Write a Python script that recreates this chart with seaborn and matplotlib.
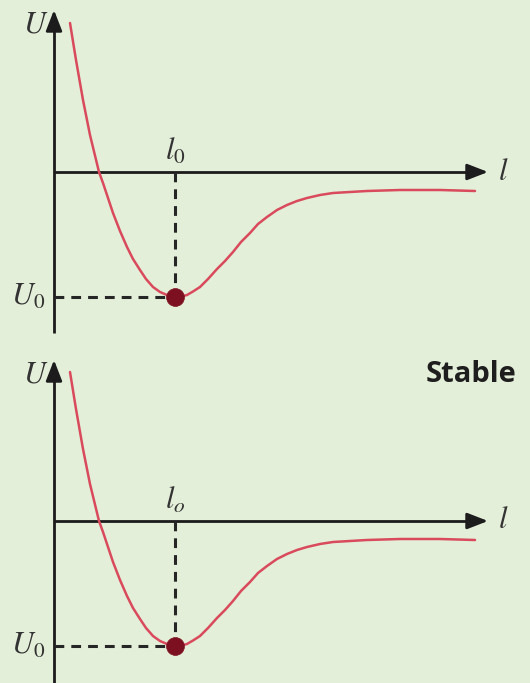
import numpy as np
import pandas as pd
import matplotlib
matplotlib.use('Agg')
from matplotlib import pyplot as plt
import seaborn as sns

# potential energy curve (l from U axis, U from l axis)
curve_l = [16, 22, 29, 36, 45, 49, 54, 59, 66, 73, 79, 86, 92, 99, 106, 113, 121, 127,
           133, 139, 146, 154, 163, 171, 179, 187, 196, 204, 213, 223, 233, 243, 253,
           266, 279, 296, 313, 346, 386, 421]
curve_U = [149, 112, 72, 37, 0, -11, -26, -41, -59, -75, -87, -98, -107, -115, -120,
           -123, -125, -124.5, -123, -119.5, -115, -107, -97, -89, -80, -70, -61, -52,
           -45, -38, -33, -29, -26, -23, -21, -20, -19, -18, -18, -19]
l0 = 121
U0 = -125
panel_labels = ['$l_0$', '$l_o$']
panel_note = ['', 'Stable']

BG = '#e4efd9'
RED = '#d94a5c'
DOT = '#7d1020'
INK = '#1c1c1c'

sns.set_style('white', {'axes.facecolor': BG, 'figure.facecolor': BG})
plt.rcParams['mathtext.fontset'] = 'stix'
plt.rcParams['font.family'] = ['Liberation Serif', 'DejaVu Serif']

W, H = 530, 683
fig = plt.figure(figsize=(W / 100, H / 100), dpi=100)
fig.patch.set_facecolor(BG)

df = pd.DataFrame({'l': curve_l, 'U': curve_U})

# (top pixel, bottom pixel, pixel row of l axis, U-axis bottom, U-axis top)
panels = [(0, 349, 172, -161, 162), (349, 683, 521, -162, 161)]

for i, (ptop, pbot, prow, ubot, utop) in enumerate(panels):
    ax = fig.add_axes([0, (H - pbot) / H, 1, (pbot - ptop) / H])
    ax.set_xlim(-54, W - 54)
    ax.set_ylim(prow - pbot, prow - ptop)
    ax.set_axis_off()

    # axes with arrows
    ax.plot([0, 0], [ubot, utop - 12], color=INK, lw=2, solid_capstyle='butt')
    ax.annotate('', xy=(0, utop), xytext=(0, utop - 14),
                arrowprops=dict(arrowstyle='-|>,head_length=0.9,head_width=0.35',
                                color=INK, lw=2, mutation_scale=14, shrinkA=0, shrinkB=0))
    ax.plot([0, 420], [0, 0], color=INK, lw=2, solid_capstyle='butt')
    ax.annotate('', xy=(434, 0), xytext=(418, 0),
                arrowprops=dict(arrowstyle='-|>,head_length=0.9,head_width=0.35',
                                color=INK, lw=2, mutation_scale=14, shrinkA=0, shrinkB=0))

    # guides to the minimum
    ax.plot([0, l0], [U0, U0], color='#262626', lw=2.2, ls=(0, (3.2, 2.3)))
    ax.plot([l0, l0], [0, U0], color='#262626', lw=2.2, ls=(0, (3.2, 2.3)))

    sns.lineplot(data=df, x='l', y='U', ax=ax, color=RED, lw=1.8, sort=False,
                 solid_joinstyle='round')
    sns.scatterplot(x=[l0], y=[U0], ax=ax, color=DOT, s=165, edgecolor=DOT,
                    linewidth=0.5, zorder=5)

    ax.text(-18, utop - 15, '$U$', fontsize=22, ha='center', va='center', color='#333333')
    ax.text(-26, U0, '$U_0$', fontsize=22, ha='center', va='center', color='#333333')
    ax.text(l0, 20, panel_labels[i], fontsize=22, ha='center', va='center', color='#333333')
    ax.text(449, 0, '$l$', fontsize=22, ha='center', va='center', color='#333333')
    if panel_note[i]:
        ax.text(417, 147, panel_note[i], fontsize=21, fontweight='bold', ha='center',
                va='center', color='#1e1e1e', family=['Open Sans', 'DejaVu Sans'])

fig.savefig('out.png', dpi=100, facecolor=BG)
